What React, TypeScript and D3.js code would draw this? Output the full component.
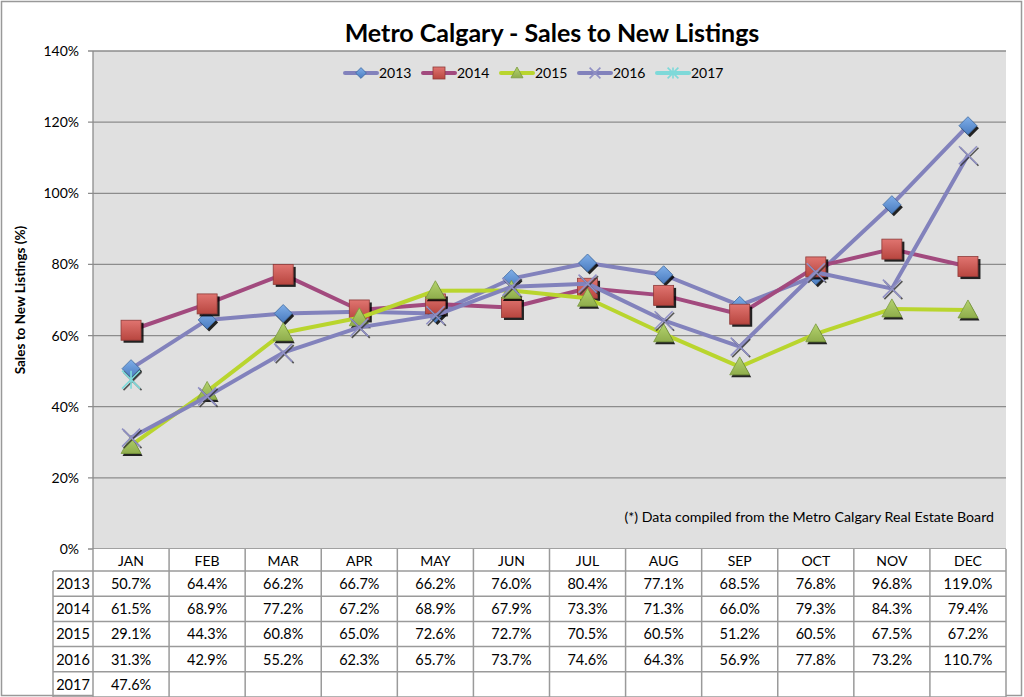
import React from "react";
import * as d3 from "d3";

const months = ["JAN","FEB","MAR","APR","MAY","JUN","JUL","AUG","SEP","OCT","NOV","DEC"];
const years = ["2013","2014","2015","2016","2017"];
const v2013 = [50.7,64.4,66.2,66.7,66.2,76.0,80.4,77.1,68.5,76.8,96.8,119.0];
const v2014 = [61.5,68.9,77.2,67.2,68.9,67.9,73.3,71.3,66.0,79.3,84.3,79.4];
const v2015 = [29.1,44.3,60.8,65.0,72.6,72.7,70.5,60.5,51.2,60.5,67.5,67.2];
const v2016 = [31.3,42.9,55.2,62.3,65.7,73.7,74.6,64.3,56.9,77.8,73.2,110.7];
const v2017 = [47.6];
const yTicks = [0,20,40,60,80,100,120,140];

const series = [
  { name: years[0], values: v2013, line: "#8282BC", marker: "diamond" },
  { name: years[1], values: v2014, line: "#A24A7E", marker: "square" },
  { name: years[2], values: v2015, line: "#B9D52E", marker: "triangle" },
  { name: years[3], values: v2016, line: "#8282BC", marker: "x" },
  { name: years[4], values: v2017, line: "#7ED9D9", marker: "star" },
];

const FONT = "Lato, 'Open Sans', sans-serif";
const L = 93, R = 1006, T = 51, B = 549;

function Marker({ type, cx, cy, legend }: { type: string; cx: number; cy: number; legend?: boolean }) {
  const s = legend ? 0.6 : 1;
  if (type === "diamond") {
    const r = 9 * s;
    const p = (dx: number, dy: number) => `M${cx + dx},${cy - r + dy}L${cx + r + dx},${cy + dy}L${cx + dx},${cy + r + dy}L${cx - r + dx},${cy + dy}Z`;
    return (
      <g>
        {!legend && <path d={p(2, 2.5)} fill="#000" opacity={0.85} />}
        <path d={p(0, 0)} fill="url(#gDiamond)" stroke="#3F69A0" strokeWidth={0.8} />
      </g>
    );
  }
  if (type === "square") {
    const h = 10 * s;
    return (
      <g>
        {!legend && <rect x={cx - h + 2.5} y={cy - h + 2.5} width={2 * h} height={2 * h} fill="#000" opacity={0.85} />}
        <rect x={cx - h} y={cy - h} width={2 * h} height={2 * h} fill="url(#gSquare)" stroke="#8E3A38" strokeWidth={0.8} />
      </g>
    );
  }
  if (type === "triangle") {
    const h = 10 * s;
    const p = (dx: number, dy: number) => `M${cx + dx},${cy - h + dy}L${cx + h + dx},${cy + h * 0.8 + dy}L${cx - h + dx},${cy + h * 0.8 + dy}Z`;
    return (
      <g>
        {!legend && <path d={p(1.5, 2.5)} fill="#000" opacity={0.85} />}
        <path d={p(0, 0)} fill="url(#gTri)" stroke="#7A9A3C" strokeWidth={0.8} />
      </g>
    );
  }
  if (type === "x") {
    const h = 9 * s;
    return (
      <g>
        {!legend && (
          <path d={`M${cx - h + 1.5},${cy - h + 1.5}L${cx + h + 1.5},${cy + h + 1.5}M${cx + h + 1.5},${cy - h + 1.5}L${cx - h + 1.5},${cy + h + 1.5}`} stroke="#333" strokeWidth={1.6} opacity={0.8} />
        )}
        <path d={`M${cx - h},${cy - h}L${cx + h},${cy + h}M${cx + h},${cy - h}L${cx - h},${cy + h}`} stroke="#9090C4" strokeWidth={1.6} />
      </g>
    );
  }
  const h = 9 * s;
  return (
    <g>
      {!legend && (
        <path d={`M${cx - h + 1.5},${cy - h + 1.5}L${cx + h + 1.5},${cy + h + 1.5}M${cx + h + 1.5},${cy - h + 1.5}L${cx - h + 1.5},${cy + h + 1.5}`} stroke="#333" strokeWidth={1.6} opacity={0.8} />
      )}
      <path d={`M${cx - h},${cy - h}L${cx + h},${cy + h}M${cx + h},${cy - h}L${cx - h},${cy + h}M${cx},${cy - h}L${cx},${cy + h}`} stroke="#7ED9D9" strokeWidth={1.6} />
    </g>
  );
}

export default function App() {
  const x = d3.scaleBand<string>().domain(months).range([L, R]);
  const y = d3.scaleLinear().domain([0, 140]).range([B, T]);
  const cx = (i: number) => (x(months[i]) as number) + x.bandwidth() / 2;
  const line = d3.line<number>().x((_, i) => cx(i)).y((d) => y(d));

  const rowH = 25.2;
  const headerH = 22;
  const rowTop = (r: number) => B + headerH + r * rowH;
  const legendX = [345, 423, 501, 579, 657];

  return (
    <svg width={1024} height={697} style={{ position: "absolute", left: 0, top: 0, display: "block" }} fontFamily={FONT}>
      <defs>
        <linearGradient id="gDiamond" x1="0" y1="0" x2="0" y2="1">
          <stop offset="0" stopColor="#7FAEE8" />
          <stop offset="1" stopColor="#4A7CC0" />
        </linearGradient>
        <linearGradient id="gSquare" x1="0" y1="0" x2="0" y2="1">
          <stop offset="0" stopColor="#E07470" />
          <stop offset="1" stopColor="#B8463F" />
        </linearGradient>
        <linearGradient id="gTri" x1="0" y1="0" x2="0" y2="1">
          <stop offset="0" stopColor="#B4D36E" />
          <stop offset="1" stopColor="#8FAD4C" />
        </linearGradient>
      </defs>
      <rect x={0} y={0} width={1024} height={697} fill="#fff" />
      <rect x={1.5} y={1.5} width={1020} height={694} fill="none" stroke="#999" strokeWidth={1.5} />

      <text x={552} y={42} textAnchor="middle" fontSize={25} fontWeight="bold" fill="#000">
        Metro Calgary - Sales to New Listings
      </text>

      <rect x={L} y={T} width={R - L} height={B - T} fill="#E0E0E0" />
      {yTicks.map((t) => (
        <g key={t}>
          <line x1={L - 5} x2={R} y1={y(t)} y2={y(t)} stroke="#8C8C8C" strokeWidth={1.3} />
          <text x={79} y={y(t) + 5} textAnchor="end" fontSize={14} fill="#000">{t}%</text>
        </g>
      ))}
      <line x1={L} x2={L} y1={T} y2={B} stroke="#8C8C8C" strokeWidth={1.3} />

      <text transform={`translate(25,${(T + B) / 2}) rotate(-90)`} textAnchor="middle" fontSize={13.5} fontWeight="bold" fill="#000">
        Sales to New Listings (%)
      </text>

      {series.map((s) => (
        <g key={s.name}>
          {s.values.length > 1 && (
            <path d={line(s.values) as string} fill="none" stroke={s.line} strokeWidth={4} strokeLinejoin="round" />
          )}
          {s.values.map((v, i) => (
            <Marker key={i} type={s.marker} cx={cx(i)} cy={y(v)} />
          ))}
        </g>
      ))}

      {series.map((s, k) => (
        <g key={s.name}>
          <line x1={legendX[k]} x2={legendX[k] + 32} y1={73} y2={73} stroke={s.line} strokeWidth={4} strokeLinecap="round" />
          <Marker type={s.marker} cx={legendX[k] + 16} cy={73} legend />
          <text x={legendX[k] + 34} y={78} fontSize={14} fill="#000">{s.name}</text>
        </g>
      ))}

      <text x={994} y={522} textAnchor="end" fontSize={14.2} fill="#000">
        (*) Data compiled from the Metro Calgary Real Estate Board
      </text>

      <rect x={L} y={B} width={R - L} height={headerH + rowH * 5} fill="#fff" />
      {months.map((m, i) => (
        <text key={m} x={cx(i)} y={B + 16.5} textAnchor="middle" fontSize={14} fill="#000">{m}</text>
      ))}
      {series.map((s, r) => (
        <g key={s.name}>
          <text x={73} y={rowTop(r) + 18} textAnchor="middle" fontSize={14.5} fill="#000">{s.name}</text>
          {s.values.map((v, i) => (
            <text key={i} x={cx(i)} y={rowTop(r) + 18} textAnchor="middle" fontSize={14.5} fill="#000">
              {d3.format(".1f")(v)}%
            </text>
          ))}
        </g>
      ))}
      {d3.range(0, 6).map((r) => (
        <line key={"h" + r} x1={53} x2={R} y1={rowTop(r)} y2={rowTop(r)} stroke="#9A9A9A" strokeWidth={1.5} />
      ))}
      <line x1={L} x2={L} y1={B} y2={rowTop(5)} stroke="#9A9A9A" strokeWidth={1.5} />
      <line x1={53} x2={53} y1={rowTop(0)} y2={rowTop(5)} stroke="#9A9A9A" strokeWidth={1.5} />
      {months.map((m) => (
        <line key={"v" + m} x1={(x(m) as number) + x.bandwidth()} x2={(x(m) as number) + x.bandwidth()} y1={B} y2={rowTop(5)} stroke="#9A9A9A" strokeWidth={1.5} />
      ))}
    </svg>
  );
}
